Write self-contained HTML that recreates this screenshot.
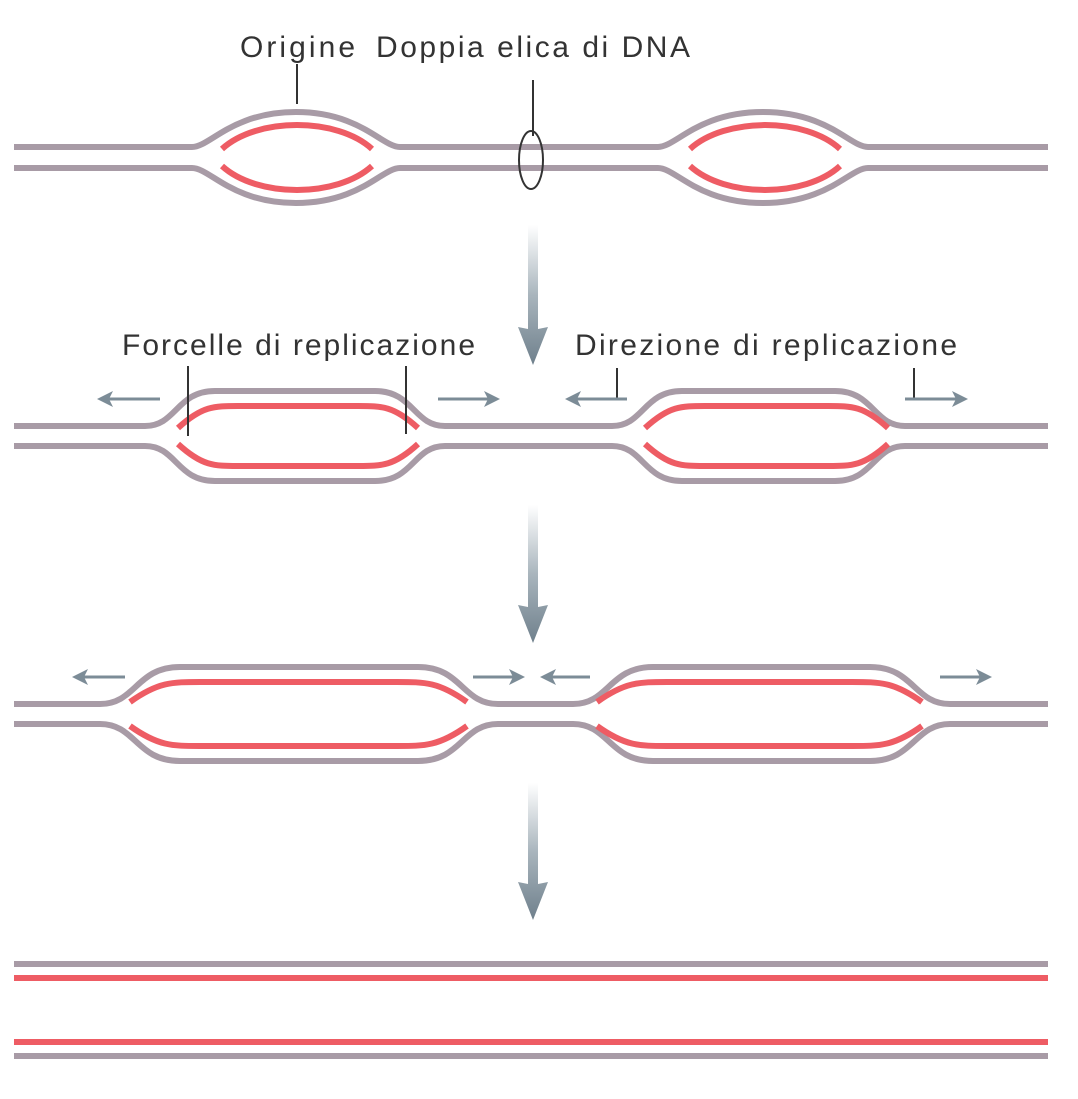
<!DOCTYPE html>
<html><head><meta charset="utf-8"><style>
html,body{margin:0;padding:0;background:#fff}
svg{display:block}
text{font-family:"Liberation Sans",sans-serif;font-size:30px;fill:#333}
</style></head><body>
<svg id="d" width="1078" height="1099" viewBox="0 0 1078 1099">
<defs>
<linearGradient id="ag" x1="0" y1="0" x2="0" y2="1">
<stop offset="0" stop-color="#ffffff"/><stop offset="0.5" stop-color="#a9b5bd"/><stop offset="1" stop-color="#6f808c"/>
</linearGradient>
</defs>
<text x="240" y="57" textLength="115" lengthAdjust="spacing">Origine</text>
<text x="376" y="57" textLength="314" lengthAdjust="spacing">Doppia elica di DNA</text>
<line x1="297" y1="64" x2="297" y2="104" stroke="#333" stroke-width="2"/>
<line x1="533" y1="80" x2="533" y2="136" stroke="#333" stroke-width="2"/>
<text x="122" y="355" textLength="353" lengthAdjust="spacing">Forcelle di replicazione</text>
<text x="575" y="355" textLength="382" lengthAdjust="spacing">Direzione di replicazione</text>
<g id="g"></g>
</svg>
<script>
const G=document.getElementById('g');const NS='http://www.w3.org/2000/svg';
const GRAY='#a89ba6',RED='#ee5c64',AR='#7c8c97';
function el(t,a,name){const e=document.createElementNS(NS,t);for(const k in a)e.setAttribute(k,a[k]);


G.appendChild(e);return e;}
function strand(y,bubbles,dir,name){
 let d='M14 '+y;
 for(const b of bubbles){const yt=y+dir*b.h;
  d+=' L'+b.a+' '+y+' C'+(b.a+b.w*0.45)+' '+y+' '+(b.a+b.w*0.45)+' '+yt+' '+(b.a+b.w)+' '+yt+
  ' L'+(b.b-b.w)+' '+yt+' C'+(b.b-b.w*0.45)+' '+yt+' '+(b.b-b.w*0.45)+' '+y+' '+b.b+' '+y;}
 d+=' L1048 '+y;
 el('path',{d:d,fill:'none',stroke:GRAY,'stroke-width':6},name);
}
function ovalStrand(y,bubbles,dir,name){
 let d='M14 '+y;
 for(const b of bubbles){const yt=y+dir*b.h;const m=(b.a+b.b)/2;
  d+=' L'+b.a+' '+y+' C'+(b.a+18)+' '+y+' '+(b.a+40)+' '+yt+' '+m+' '+yt+
  ' C'+(b.b-40)+' '+yt+' '+(b.b-18)+' '+y+' '+b.b+' '+y;}
 d+=' L1048 '+y;
 el('path',{d:d,fill:'none',stroke:GRAY,'stroke-width':6},name);
}
function red(x0,x1,ye,yt,w,name){
 const d='M'+x0+' '+ye+' C'+(x0+w*0.4)+' '+yt+' '+(x0+w*0.6)+' '+yt+' '+(x0+w)+' '+yt+
 ' L'+(x1-w)+' '+yt+' C'+(x1-w*0.6)+' '+yt+' '+(x1-w*0.4)+' '+yt+' '+x1+' '+ye;
 el('path',{d:d,fill:'none',stroke:RED,'stroke-width':6},name);
}
function arc(x0,x1,ye,yt,name){
 const k=ye+(yt-ye)*1.33;
 el('path',{d:'M'+x0+' '+ye+' C'+(x0+35)+' '+k+' '+(x1-35)+' '+k+' '+x1+' '+ye,fill:'none',stroke:RED,'stroke-width':6},name);
}
function bigArrow(x,y0,y1,name){
 el('path',{d:'M'+(x-5)+' '+y0+' L'+(x+5)+' '+y0+' L'+(x+5)+' '+(y1-36)+' L'+(x+15)+' '+(y1-38)+' L'+x+' '+y1+' L'+(x-15)+' '+(y1-38)+' L'+(x-5)+' '+(y1-36)+'Z',fill:'url(#ag)'},name);
}
function smallArrow(x0,x1,y,name){
 const s=x1>x0?1:-1;
 el('line',{x1:x0,y1:y,x2:x1-s*10,y2:y,stroke:AR,'stroke-width':3},name+'-shaft');
 el('path',{d:'M'+x1+' '+y+' L'+(x1-s*16)+' '+(y-8)+' L'+(x1-s*12)+' '+y+' L'+(x1-s*16)+' '+(y+8)+'Z',fill:AR},name+'-head');
}
// Row 1
ovalStrand(147,[{a:192,b:400,h:35},{a:658,b:868,h:35}],-1,'row1-top-strand');
ovalStrand(168,[{a:192,b:400,h:35},{a:658,b:868,h:35}],1,'row1-bottom-strand');
arc(222,372,149,125,'row1-red-top-1');arc(222,372,166,190,'row1-red-bottom-1');
arc(690,840,149,125,'row1-red-top-2');arc(690,840,166,190,'row1-red-bottom-2');
el('ellipse',{cx:531,cy:160,rx:12,ry:29,fill:'none',stroke:'#333','stroke-width':2},'helix-ring');
bigArrow(533,225,365,'step-arrow-1');
// Row 2
strand(426,[{a:145,b:445,w:70,h:35},{a:612,b:905,w:70,h:35}],-1,'row2-top-strand');
strand(446,[{a:145,b:445,w:70,h:35},{a:612,b:905,w:70,h:35}],1,'row2-bottom-strand');
red(178,418,428,406,60,'row2-red-top-1');red(178,418,444,466,60,'row2-red-bottom-1');
red(645,888,428,406,60,'row2-red-top-2');red(645,888,444,466,60,'row2-red-bottom-2');
el('line',{x1:188,y1:366,x2:188,y2:436,stroke:'#333','stroke-width':2},'fork-leader-1');
el('line',{x1:406,y1:366,x2:406,y2:434,stroke:'#333','stroke-width':2},'fork-leader-2');
el('line',{x1:617,y1:368,x2:617,y2:399,stroke:'#333','stroke-width':2},'direction-leader-1');
el('line',{x1:914,y1:368,x2:914,y2:399,stroke:'#333','stroke-width':2},'direction-leader-2');
smallArrow(160,97,399,'row2-arrow-left-1');smallArrow(438,500,399,'row2-arrow-right-1');
smallArrow(627,565,399,'row2-arrow-left-2');smallArrow(905,968,399,'row2-arrow-right-2');
bigArrow(533,505,643,'step-arrow-2');
// Row 3
strand(704,[{a:100,b:498,w:80,h:37},{a:573,b:950,w:80,h:37}],-1,'row3-top-strand');
strand(724,[{a:100,b:498,w:80,h:37},{a:573,b:950,w:80,h:37}],1,'row3-bottom-strand');
red(130,467,702,682,70,'row3-red-top-1');red(130,467,726,746,70,'row3-red-bottom-1');
red(597,922,702,682,70,'row3-red-top-2');red(597,922,726,746,70,'row3-red-bottom-2');
smallArrow(125,72,677,'row3-arrow-left-1');smallArrow(473,525,677,'row3-arrow-right-1');
smallArrow(590,540,677,'row3-arrow-left-2');smallArrow(940,992,677,'row3-arrow-right-2');
bigArrow(533,783,920,'step-arrow-3');
// Row 4
el('line',{x1:14,y1:964,x2:1048,y2:964,stroke:GRAY,'stroke-width':6},'row4-gray-1');
el('line',{x1:14,y1:978,x2:1048,y2:978,stroke:RED,'stroke-width':6},'row4-red-1');
el('line',{x1:14,y1:1042,x2:1048,y2:1042,stroke:RED,'stroke-width':6},'row4-red-2');
el('line',{x1:14,y1:1056,x2:1048,y2:1056,stroke:GRAY,'stroke-width':6},'row4-gray-2');
</script>
</body></html>
